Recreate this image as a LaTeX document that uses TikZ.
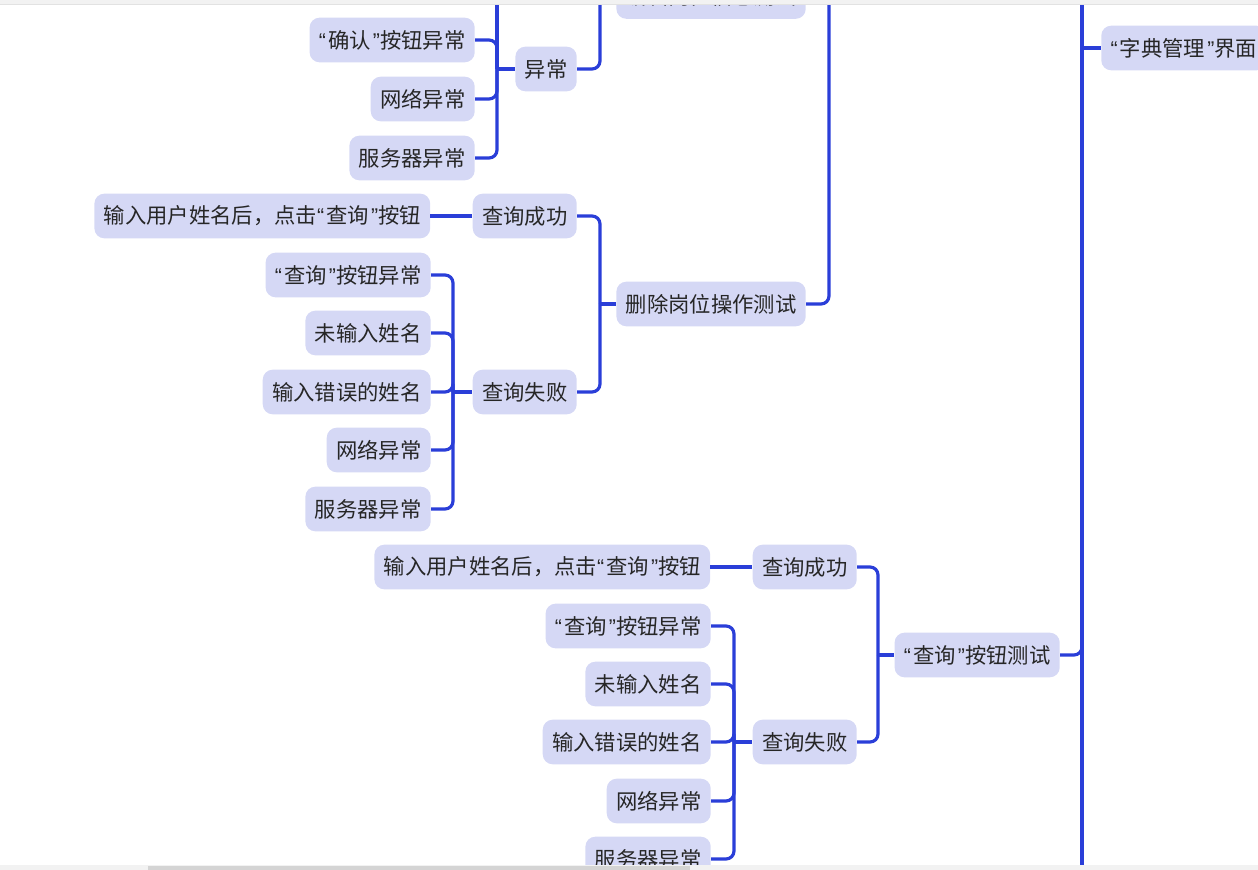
\documentclass[tikz,border=0pt]{standalone}
\usepackage{fontspec}
\newfontfamily\cjk{Noto Sans CJK SC}
\newfontfamily\qfont{Liberation Sans}
\newcommand\qo{{\qfont “}\kern1.6pt}
\newcommand\qc{\kern1.6pt{\qfont ”}}
\usepackage{xcolor}
\usepackage{tikz}
\usetikzlibrary{
  positioning,
  calc
}
\definecolor{linkblue}{HTML}{2A3ED8}
\definecolor{topicfill}{HTML}{D5D8F5}
\definecolor{barfill}{HTML}{F2F2F2}
\definecolor{barline}{HTML}{E2E2E2}
\definecolor{thumbfill}{HTML}{D4D4D4}
\tikzset{
  topic/.style={rectangle,fill=topicfill,rounded corners=7.5pt,minimum height=33.5pt,
    inner xsep=7pt,inner ysep=0pt,font=\cjk\fontsize{16}{18}\selectfont,text=black!85},
  link/.style={draw=linkblue,line width=2.4pt,rounded corners=6pt},
  stem/.style={draw=linkblue,line width=2.4pt}
}

\begin{document}
\begin{tikzpicture}[x=0.75pt,y=-0.75pt]
    \useasboundingbox (0,0) rectangle (1258,870);
    \clip (0,0) rectangle (1258,870);

    % trunk of the dictionary page
    \node[topic,anchor=west] (zd) at (1101,48) {\qo 字典管理\qc 界面};
    \coordinate (zdj) at (1082,48);
    \coordinate (zdtop) at (1082,-40);
    \coordinate (zdbot) at (1082,920);
    \draw[stem] (zdtop) -- (zdbot);
    \draw[stem] (zdj) -- (zd.west);

    % edit / delete branch (parent above the view)
    \coordinate (gwj) at (829,-60);
    \node[topic,anchor=east] (bj) at (806,-3.5) {编辑岗位信息测试};
    \node[topic,anchor=east] (sc) at (806,304) {删除岗位操作测试};
    \draw[link] (bj.east) -| (gwj);
    \draw[link] (sc.east) -| (gwj);

    % edit: exceptions
    \coordinate (bjj) at (600,-3.5);
    \draw[stem] (bjj) -- (bj.west);
    \node[topic,anchor=east] (yc) at (577,69) {异常};
    \draw[link] (yc.east) -| (bjj);
    \coordinate (ycj) at (497,69);
    \coordinate (ycup) at (497,-40);
    \draw[stem] (ycj) -- (yc.west);
    \draw[stem] (ycj) -- (ycup);
    \foreach \t/\y [count=\i] in {\qo 确认\qc 按钮异常/40,网络异常/99,服务器异常/158}{
      \node[topic,anchor=east] (yc\i) at (475,\y) {\t};
      \draw[link] (yc\i.east) -| (ycj);
    }

    % delete: query
    \coordinate (scj) at (600,304);
    \draw[stem] (scj) -- (sc.west);
    \node[topic,anchor=east] (sc1) at (577,216) {查询成功};
    \node[topic,anchor=east] (sc2) at (577,392) {查询失败};
    \draw[link] (sc1.east) -| (scj);
    \draw[link] (sc2.east) -| (scj);
    \node[topic,left=31.5pt of sc1] (sc1a) {输入用户姓名后，点击\qo 查询\qc 按钮};
    \draw[stem] (sc1a) -- (sc1);
    \coordinate (sc2j) at (453,392);
    \draw[stem] (sc2j) -- (sc2.west);
    \foreach \t/\y [count=\i] in {\qo 查询\qc 按钮异常/275,未输入姓名/333,输入错误的姓名/392,网络异常/450,服务器异常/509}{
      \node[topic,anchor=east] (sc2\i) at (431,\y) {\t};
      \draw[link] (sc2\i.east) -| (sc2j);
    }

    % query button test
    \node[topic,anchor=east] (cx) at (1060,655) {\qo 查询\qc 按钮测试};
    \draw[link] (cx.east) -| (zdj);
    \coordinate (cxj) at (878,655);
    \draw[stem] (cxj) -- (cx.west);
    \node[topic,anchor=east] (cx1) at (857,567) {查询成功};
    \node[topic,anchor=east] (cx2) at (857,742) {查询失败};
    \draw[link] (cx1.east) -| (cxj);
    \draw[link] (cx2.east) -| (cxj);
    \node[topic,left=31.5pt of cx1] (cx1a) {输入用户姓名后，点击\qo 查询\qc 按钮};
    \draw[stem] (cx1a) -- (cx1);
    \coordinate (cx2j) at (734,742);
    \draw[stem] (cx2j) -- (cx2.west);
    \foreach \t/\y [count=\i] in {\qo 查询\qc 按钮异常/626,未输入姓名/684,输入错误的姓名/742,网络异常/801,服务器异常/859}{
      \node[topic,anchor=east] (cx2\i) at (711,\y) {\t};
      \draw[link] (cx2\i.east) -| (cx2j);
    }

    % window bars
    \fill[barfill] (0,0) rectangle (1258,5);
    \draw[barline,line width=0.75pt] (0,5) -- (1258,5);
    \fill[barfill] (0,865) rectangle (1258,870);
    \fill[thumbfill] (148,866) rectangle (690,870);
\end{tikzpicture}
\end{document}
